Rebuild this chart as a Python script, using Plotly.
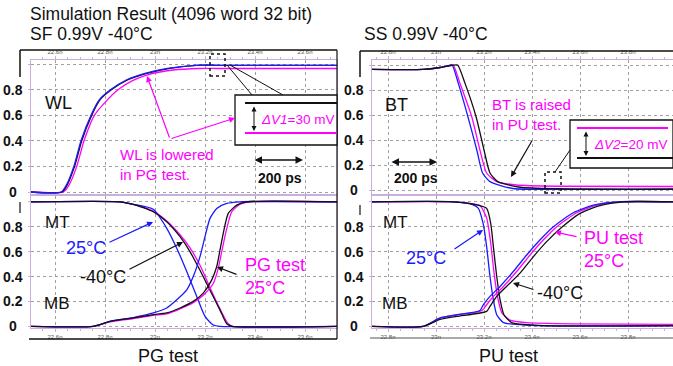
import plotly.graph_objects as go

W, H = 673, 366

# ---------------- data (time in ns, voltage in V) ----------------
# Top-left: WL waveform (PG test)
wl_t_black = [22.504, 22.628, 22.65, 22.68, 22.707, 22.747, 22.78, 22.827, 22.89, 22.967, 23.06, 23.167, 23.25, 23.732]
wl_v_black = [0, 0, 0.06, 0.21, 0.4, 0.6, 0.72, 0.8, 0.875, 0.927, 0.966, 0.99, 0.99, 0.99]
wl_t_blue = [22.504, 22.625, 22.647, 22.677, 22.704, 22.744, 22.777, 22.823, 22.885, 22.96, 23.05, 23.16, 23.25, 23.732]
wl_v_blue = [0, 0, 0.06, 0.21, 0.4, 0.6, 0.72, 0.8, 0.875, 0.927, 0.966, 0.99, 0.99, 0.99]
wl_t_mag = [22.504, 22.632, 22.655, 22.687, 22.716, 22.758, 22.8, 22.853, 22.91, 22.967, 23.073, 23.18, 23.25, 23.732]
wl_v_mag = [0, 0, 0.05, 0.2, 0.4, 0.6, 0.7, 0.8, 0.87, 0.914, 0.953, 0.965, 0.965, 0.965]

# Top-right: BT waveform (PU test)
bt_t_black = [22.733, 22.946, 23.017, 23.07, 23.09, 23.121, 23.167, 23.2, 23.225, 23.258, 23.35, 23.5, 23.988]
bt_v_black = [0.965, 0.965, 0.98, 0.998, 1.0, 0.853, 0.586, 0.32, 0.136, 0.067, 0.022, 0.01, 0.008]
bt_t_mag = [22.733, 22.946, 23.017, 23.06, 23.072, 23.1, 23.149, 23.183, 23.211, 23.253, 23.336, 23.5, 23.988]
bt_v_mag = [0.965, 0.965, 0.98, 0.997, 1.0, 0.853, 0.586, 0.32, 0.136, 0.067, 0.04, 0.03, 0.028]
bt_t_blue = [22.733, 22.946, 23.017, 23.055, 23.067, 23.093, 23.133, 23.17, 23.194, 23.225, 23.32, 23.5, 23.988]
bt_v_blue = [0.965, 0.965, 0.98, 0.997, 1.0, 0.853, 0.586, 0.32, 0.136, 0.067, 0.012, 0.005, 0.005]

# Bottom-left: MT / MB (PG test)
pg_mt_t_blue = [22.504, 22.86, 22.913, 22.993, 23.047, 23.087, 23.127, 23.167, 23.2, 23.233, 23.26, 23.732]
pg_mt_v_blue = [1, 1, 0.98, 0.94, 0.787, 0.627, 0.44, 0.24, 0.08, 0.01, 0, 0]
pg_mt_t_black = [22.504, 22.86, 22.913, 22.993, 23.047, 23.1, 23.14, 23.18, 23.22, 23.26, 23.287, 23.307, 23.732]
pg_mt_v_black = [1, 1, 0.98, 0.92, 0.84, 0.72, 0.6, 0.45, 0.29, 0.13, 0.02, 0, 0]
pg_mt_t_mag = [22.504, 22.86, 22.913, 22.993, 23.047, 23.1, 23.14, 23.18, 23.22, 23.26, 23.293, 23.313, 23.732]
pg_mt_v_mag = [1, 1, 0.98, 0.925, 0.845, 0.735, 0.63, 0.49, 0.31, 0.14, 0.02, 0, 0]

pg_mb_t_blue = [22.504, 22.753, 22.82, 22.913, 22.993, 23.047, 23.087, 23.127, 23.153, 23.18, 23.2, 23.22, 23.247, 23.287, 23.34, 23.732]
pg_mb_v_blue = [0, 0, 0.04, 0.07, 0.107, 0.147, 0.213, 0.293, 0.4, 0.56, 0.72, 0.867, 0.947, 0.987, 1.0, 1.0]
pg_mb_t_black = [22.504, 22.753, 22.82, 22.913, 22.993, 23.047, 23.1, 23.153, 23.193, 23.227, 23.247, 23.26, 23.273, 23.293, 23.327, 23.367, 23.732]
pg_mb_v_black = [0, 0, 0.04, 0.067, 0.093, 0.107, 0.147, 0.2, 0.267, 0.373, 0.48, 0.613, 0.747, 0.907, 0.973, 1.0, 1.0]
pg_mb_t_mag = [22.504, 22.753, 22.82, 22.913, 22.993, 23.047, 23.1, 23.153, 23.193, 23.233, 23.253, 23.267, 23.284, 23.307, 23.34, 23.38, 23.732]
pg_mb_v_mag = [0, 0, 0.035, 0.062, 0.088, 0.1, 0.14, 0.19, 0.25, 0.344, 0.465, 0.6, 0.76, 0.92, 0.98, 1.0, 1.0]

# Bottom-right: MT / MB (PU test)
pu_mt_t_blue = [22.733, 23.072, 23.15, 23.176, 23.197, 23.211, 23.225, 23.239, 23.253, 23.281, 23.35, 23.45, 23.988]
pu_mt_v_blue = [1, 1, 0.98, 0.95, 0.82, 0.64, 0.4, 0.213, 0.093, 0.03, 0.013, 0.003, 0.003]
pu_mt_t_mag = [22.733, 23.072, 23.15, 23.183, 23.211, 23.228, 23.242, 23.256, 23.274, 23.308, 23.378, 23.572, 23.988]
pu_mt_v_mag = [1, 1, 0.985, 0.97, 0.87, 0.667, 0.427, 0.24, 0.11, 0.05, 0.03, 0.02, 0.015]
pu_mt_t_black = [22.733, 23.072, 23.17, 23.211, 23.228, 23.239, 23.253, 23.267, 23.283, 23.315, 23.378, 23.45, 23.988]
pu_mt_v_black = [1, 1, 0.975, 0.947, 0.827, 0.64, 0.4, 0.213, 0.093, 0.03, 0.013, 0.005, 0.005]

pu_mb_t_blue = [22.733, 22.947, 23.017, 23.086, 23.183, 23.197, 23.225, 23.267, 23.322, 23.378, 23.433, 23.489, 23.572, 23.656, 23.753, 23.988]
pu_mb_v_blue = [0, 0, 0.067, 0.093, 0.127, 0.173, 0.24, 0.32, 0.44, 0.573, 0.693, 0.8, 0.912, 0.973, 1.0, 1.0]
pu_mb_t_mag = [22.733, 22.947, 23.017, 23.086, 23.19, 23.211, 23.239, 23.281, 23.336, 23.392, 23.447, 23.503, 23.586, 23.669, 23.767, 23.988]
pu_mb_v_mag = [0, 0, 0.065, 0.09, 0.125, 0.173, 0.24, 0.32, 0.44, 0.573, 0.693, 0.8, 0.912, 0.973, 1.0, 1.0]
pu_mb_t_black = [22.733, 22.947, 23.017, 23.086, 23.211, 23.225, 23.253, 23.294, 23.35, 23.406, 23.461, 23.524, 23.6, 23.683, 23.781, 23.988]
pu_mb_v_black = [0, 0, 0.055, 0.08, 0.12, 0.16, 0.24, 0.32, 0.427, 0.56, 0.68, 0.795, 0.907, 0.97, 1.0, 1.0]

# tick labels
left_tickvals = [22.6, 22.8, 23.0, 23.2, 23.4, 23.6]
left_ticktext = ["22.6n", "22.8n", "23n", "23.2n", "23.4n", "23.6n"]
right_tickvals = [22.8, 23.0, 23.2, 23.4, 23.6, 23.8]
right_ticktext = ["22.8n", "23n", "23.2n", "23.4n", "23.6n", "23.8n"]
y_labels = [0, 0.2, 0.4, 0.6, 0.8]
y_grid = [0, 0.2, 0.4, 0.6, 0.8, 1.0]

# ---------------- styling ----------------
BLUE = "#1a1aff"
MAG = "#ff00ff"
BLACK = "#111111"
LAV = "#c9b0dc"
GRID = "#a0a0a0"
FONT = "Arial, Liberation Sans, sans-serif"


def px(x):
    return x / W


def py(y):
    return 1 - y / H


fig = go.Figure()


def add_line(t, v, color, ax):
    fig.add_trace(go.Scatter(
        x=t, y=v, mode="lines", xaxis="x" + ax, yaxis="y" + ax,
        line=dict(color=color, width=1.3, shape="spline", smoothing=0.6),
        hoverinfo="skip", showlegend=False))


# top-left (axis "")
add_line(wl_t_mag, wl_v_mag, MAG, "")
add_line(wl_t_black, wl_v_black, BLACK, "")
add_line(wl_t_blue, wl_v_blue, BLUE, "")
# top-right
add_line(bt_t_mag, bt_v_mag, MAG, "2")
add_line(bt_t_blue, bt_v_blue, BLUE, "2")
add_line(bt_t_black, bt_v_black, BLACK, "2")
# bottom-left
for t, v, c in [(pg_mt_t_mag, pg_mt_v_mag, MAG), (pg_mt_t_blue, pg_mt_v_blue, BLUE), (pg_mt_t_black, pg_mt_v_black, BLACK),
                (pg_mb_t_mag, pg_mb_v_mag, MAG), (pg_mb_t_blue, pg_mb_v_blue, BLUE), (pg_mb_t_black, pg_mb_v_black, BLACK)]:
    add_line(t, v, c, "3")
# bottom-right
for t, v, c in [(pu_mt_t_mag, pu_mt_v_mag, MAG), (pu_mt_t_blue, pu_mt_v_blue, BLUE), (pu_mt_t_black, pu_mt_v_black, BLACK),
                (pu_mb_t_mag, pu_mb_v_mag, MAG), (pu_mb_t_blue, pu_mb_v_blue, BLUE), (pu_mb_t_black, pu_mb_v_black, BLACK)]:
    add_line(t, v, c, "4")


def xax(dom, rng, side, anchor, tv, tt):
    return dict(domain=[px(dom[0]), px(dom[1])], range=rng, anchor=anchor, side=side,
                tickvals=tv, ticktext=tt, tickfont=dict(size=6, color="#555", family=FONT),
                ticks="outside", ticklen=3, tickcolor=LAV,
                minor=dict(ticks="outside", ticklen=2, tickcolor=LAV, dtick=0.05, tick0=22.6, showgrid=False),
                showgrid=True, gridcolor=GRID, griddash="dot", gridwidth=1,
                showline=True, linecolor=LAV, linewidth=1, mirror=True, zeroline=False,
                fixedrange=True)


def yax(dom, rng, anchor):
    return dict(domain=[py(dom[1]), py(dom[0])], range=rng, anchor=anchor,
                tickvals=y_grid, showticklabels=False, ticks="outside", ticklen=2, tickcolor=LAV,
                showgrid=True, gridcolor=GRID, griddash="dot", gridwidth=1,
                showline=True, linecolor=LAV, linewidth=1, mirror=True, zeroline=False,
                fixedrange=True)


LX = (31, 337)
RX = (372, 673)
TY = (60, 194)
BY = (196, 328)
left_xr = [22.6 + (LX[0] - 55) / 250, 22.6 + (LX[1] - 55) / 250]
right_xr = [22.8 + (RX[0] - 388) / 240, 22.8 + (RX[1] - 388) / 240]
top_l_yr = [(192 - TY[1]) / 128, (192 - TY[0]) / 128]
top_r_yr = [(190 - TY[1]) / 125, (190 - TY[0]) / 125]
bot_yr = [(326.3 - BY[1]) / 124.5, (326.3 - BY[0]) / 124.5]

layout = dict(
    width=W, height=H, margin=dict(l=0, r=0, t=0, b=0),
    paper_bgcolor="white", plot_bgcolor="white", showlegend=False,
    font=dict(family=FONT),
    xaxis=xax(LX, left_xr, "top", "y", left_tickvals, left_ticktext),
    yaxis=yax(TY, top_l_yr, "x"),
    xaxis2=xax(RX, right_xr, "top", "y2", right_tickvals, right_ticktext),
    yaxis2=yax(TY, top_r_yr, "x2"),
    xaxis3=xax(LX, left_xr, "bottom", "y3", left_tickvals, left_ticktext),
    yaxis3=yax(BY, bot_yr, "x3"),
    xaxis4=xax(RX, right_xr, "bottom", "y4", right_tickvals, right_ticktext),
    yaxis4=yax(BY, bot_yr, "x4"),
)
fig.update_layout(**layout)

ann = []
shapes = []


def text(s, x, y, color=BLACK, size=16, bold=False, xanchor="center"):
    if bold:
        s = "<b>" + s + "</b>"
    ann.append(dict(text=s, x=px(x), y=py(y), xref="paper", yref="paper", showarrow=False,
                    xanchor=xanchor, yanchor="middle", align="left",
                    font=dict(color=color, size=size, family=FONT)))


def arrow(hx, hy, tx, ty, color=BLACK, width=1.2, both=False, head=2, size=1.0):
    ann.append(dict(text="", x=px(hx), y=py(hy), xref="paper", yref="paper", showarrow=True,
                    ax=tx - hx, ay=ty - hy, axref="pixel", ayref="pixel",
                    arrowhead=head, arrowsize=size, arrowwidth=width, arrowcolor=color,
                    arrowside="end+start" if both else "end", startarrowhead=head, startarrowsize=size))


def line(x0, y0, x1, y1, color=BLACK, width=1.2, dash="solid"):
    shapes.append(dict(type="line", xref="paper", yref="paper", x0=px(x0), y0=py(y0), x1=px(x1), y1=py(y1),
                       line=dict(color=color, width=width, dash=dash)))


def rect(x0, y0, x1, y1, color=BLACK, width=1.2, dash="solid", fill="rgba(0,0,0,0)"):
    shapes.append(dict(type="rect", xref="paper", yref="paper", x0=px(x0), y0=py(y1), x1=px(x1), y1=py(y0),
                       line=dict(color=color, width=width, dash=dash), fillcolor=fill))


# bold y tick labels, placed via each panel's y scale
for yref, cx in [("y", 12.5), ("y2", 353.5), ("y3", 12.5), ("y4", 353.5)]:
    for v in y_labels:
        lab = "0" if v == 0 else f"{v:.1f}"
        ann.append(dict(text="<b>" + lab + "</b>", x=px(cx), y=v, xref="paper", yref=yref, showarrow=False,
                        xanchor="center", yanchor="middle", font=dict(size=14, color=BLACK, family=FONT)))

# frames
line(20, 50, 337, 50, BLACK, 1.5)
line(20, 50, 20, 77, BLACK, 1.5)
line(337, 50, 337, 339, BLACK, 1.2)
line(360, 51, 673, 51, BLACK, 1.5)
line(360, 51, 360, 77, BLACK, 1.5)
line(20, 202, 20, 213, BLACK, 1.2)
line(360, 205, 360, 215, BLACK, 1.2)
line(29, 339, 337, 339, BLACK, 1.5)
line(370, 338, 673, 338, "#555", 1.0)

# titles
text("Simulation Result (4096 word 32 bit)", 28, 14, size=17.5, xanchor="left")
text("SF 0.99V -40°C", 28, 34, size=17.5, xanchor="left")
text("SS 0.99V -40°C", 362, 34, size=17.5, xanchor="left")

# ---- top-left annotations
text("WL", 58, 103, size=18)
text("WL is lowered<br>in PG test.", 118, 165, color=MAG, size=15, xanchor="left")
arrow(147, 76, 170, 139, MAG)
arrow(235, 118, 170, 139, MAG)
rect(210, 54, 225, 76, BLACK, 1.5, "dot")
line(227, 65, 252, 95, BLACK, 1.0)
line(230, 65, 283, 95, BLACK, 1.0)
rect(235, 95, 337, 145, BLACK, 1.3, fill="white")
line(245, 103, 337, 103, BLACK, 2.2)
line(245, 133, 337, 133, MAG, 2.2)
arrow(254, 131, 254, 105, BLACK, 1.0, both=True, size=1.0)
text("<i>ΔV1</i>=30 mV", 259, 119, color=MAG, size=13.5, xanchor="left")
arrow(303, 160, 253, 160, BLACK, 1.5, both=True)
text("200 ps", 280, 178, size=14, bold=True)

# ---- top-right annotations
text("BT", 396, 105, size=18)
text("BT is raised<br>in PU test.", 490, 114, color=MAG, size=15, xanchor="left")
arrow(511, 177, 533, 139, BLACK)
arrow(437, 162, 390, 162, BLACK, 1.5, both=True)
text("200 ps", 416, 178, size=14, bold=True)
rect(545, 172, 561, 193, BLACK, 1.5, "dot")
line(555, 172, 570, 150, BLACK, 1.0)
rect(570, 120, 673, 168, BLACK, 1.3, fill="white")
line(577, 128, 668, 128, MAG, 2.2)
line(577, 158, 673, 158, BLACK, 2.2)
arrow(586, 156, 586, 130, BLACK, 1.0, both=True)
text("<i>ΔV2</i>=20 mV", 592, 144, color=MAG, size=13.5, xanchor="left")

# ---- bottom-left annotations
text("MT", 57, 222, size=17)
text("MB", 57, 303, size=17)
text("25°C", 86, 248, color=BLUE, size=18)
arrow(153, 222, 108, 243, BLUE)
text("-40°C", 103, 277, size=18)
arrow(183, 242, 128, 270, BLACK)
text("PG test<br>25°C", 243, 276, color=MAG, size=18, xanchor="left")
arrow(217, 267, 238, 275, BLACK)
text("PG test", 168, 356, size=18)

# ---- bottom-right annotations
text("MT", 395, 222, size=17)
text("MB", 395, 303, size=17)
text("25°C", 426, 258, color=BLUE, size=18)
arrow(483, 230, 453, 250, BLUE)
text("PU test<br>25°C", 582, 249, color=MAG, size=18, xanchor="left")
arrow(555, 232, 578, 237, MAG)
text("-40°C", 560, 293, size=18)
arrow(513, 283, 535, 290, BLACK)
text("PU test", 508, 356, size=18)

fig.update_layout(annotations=ann, shapes=shapes)
fig.write_html("out.html")
